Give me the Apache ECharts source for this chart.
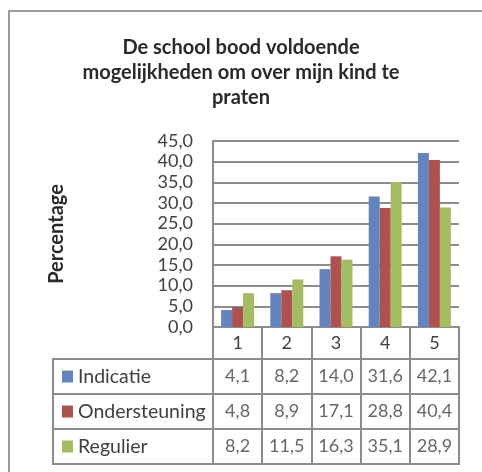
<!DOCTYPE html>
<html>
<head>
<meta charset="utf-8">
<script src="https://cdn.jsdelivr.net/npm/echarts@6/dist/echarts.min.js"></script>
<style>
  html, body { margin: 0; padding: 0; background: #fff; }
  #chart { width: 482px; height: 472px; }
</style>
</head>
<body>
<div id="chart"></div>
<script>
const titleText = 'De school bood voldoende\nmogelijkheden om over mijn kind te\npraten'
const categories = ['1', '2', '3', '4', '5']
const seriesNames = ['Indicatie', 'Ondersteuning', 'Regulier']
const indicatie = [4.1, 8.2, 14.0, 31.6, 42.1]
const ondersteuning = [4.8, 8.9, 17.1, 28.8, 40.4]
const regulier = [8.2, 11.5, 16.3, 35.1, 28.9]
const colors = ['#6384BF', '#AE524F', '#A4BD63']

const values = [indicatie, ondersteuning, regulier]
const fmt = v => v.toFixed(1).replace('.', ',')

const font = 'Lato, "Open Sans", sans-serif'
const textColor = '#404040'
const lineColor = '#8C8C8C'

// table cells: [column, row, value]
const tableData = []
values.forEach((row, r) => {
  row.forEach((v, c) => tableData.push([c, r, v]))
})

const chart = echarts.init(document.getElementById('chart'))

const option = {
  animation: false,
  textStyle: { fontFamily: font },
  title: {
    text: titleText,
    left: 'center',
    top: 30,
    padding: [5, 5, 5, 21],
    textStyle: {
      fontFamily: font,
      fontSize: 20,
      fontWeight: 'bold',
      color: '#2A2A2A',
      lineHeight: 25
    }
  },
  graphic: [{
    type: 'rect',
    shape: { x: 9, y: 11, width: 600, height: 600 },
    style: { fill: 'none', stroke: '#9A9A9A', lineWidth: 2 },
    silent: true
  }],
  legend: {
    data: seriesNames,
    orient: 'vertical',
    left: 62,
    top: 359,
    padding: 0,
    height: 110,
    itemWidth: 11,
    itemHeight: 12,
    itemGap: 0,
    icon: 'rect',
    textStyle: { fontFamily: font, fontSize: 19.5, color: textColor, lineHeight: 35 }
  },
  grid: [
    { left: 213, top: 141, width: 246, height: 186 },
    { left: 53, top: 359, width: 160, height: 105, show: true, borderColor: lineColor, borderWidth: 2 },
    { left: 213, top: 359, width: 246, height: 105, show: true, borderColor: lineColor, borderWidth: 2 }
  ],
  xAxis: [
    {
      gridIndex: 0,
      type: 'category',
      data: categories,
      axisLine: { lineStyle: { color: lineColor, width: 2 } },
      axisTick: { show: true, length: 32, interval: 0, lineStyle: { color: lineColor, width: 2 } },
      axisLabel: { fontSize: 18, color: textColor, margin: 7 }
    },
    {
      gridIndex: 1,
      type: 'category',
      data: [''],
      show: false
    },
    {
      gridIndex: 2,
      type: 'category',
      data: categories,
      axisLine: { show: false },
      axisTick: { show: false },
      axisLabel: { show: false },
      splitLine: { show: true, interval: 0, lineStyle: { color: lineColor, width: 2 } }
    }
  ],
  yAxis: [
    {
      gridIndex: 0,
      type: 'value',
      min: 0,
      max: 45,
      interval: 5,
      name: 'Percentage',
      nameLocation: 'middle',
      nameGap: 146,
      nameRotate: 90,
      nameTextStyle: { fontFamily: font, fontSize: 20, fontWeight: 'bold', color: '#2A2A2A' },
      axisLine: { show: true, lineStyle: { color: lineColor, width: 2 } },
      axisTick: { show: false },
      axisLabel: { fontSize: 18, color: textColor, margin: 20, formatter: v => fmt(v) },
      splitLine: { lineStyle: { color: lineColor, width: 2 } }
    },
    {
      gridIndex: 1,
      type: 'category',
      data: seriesNames,
      inverse: true,
      axisLine: { show: false },
      axisTick: { show: false },
      axisLabel: { show: false },
      splitLine: { show: true, interval: 0, lineStyle: { color: lineColor, width: 2 } }
    },
    {
      gridIndex: 2,
      type: 'category',
      data: seriesNames,
      inverse: true,
      axisLine: { show: false },
      axisTick: { show: false },
      axisLabel: { show: false },
      splitLine: { show: true, interval: 0, lineStyle: { color: lineColor, width: 2 } }
    }
  ],
  series: [
    ...seriesNames.map((name, i) => ({
      name: name,
      type: 'bar',
      xAxisIndex: 0,
      yAxisIndex: 0,
      data: values[i],
      barGap: '0%',
      barCategoryGap: '33%',
      itemStyle: { color: colors[i] }
    })),
    {
      name: 'table',
      type: 'scatter',
      xAxisIndex: 2,
      yAxisIndex: 2,
      symbolSize: 0,
      data: tableData,
      label: {
        show: true,
        position: 'inside',
        fontFamily: font,
        fontSize: 18,
        color: textColor,
        formatter: p => fmt(p.data[2])
      }
    }
  ]
}

chart.setOption(option)
</script>
</body>
</html>
